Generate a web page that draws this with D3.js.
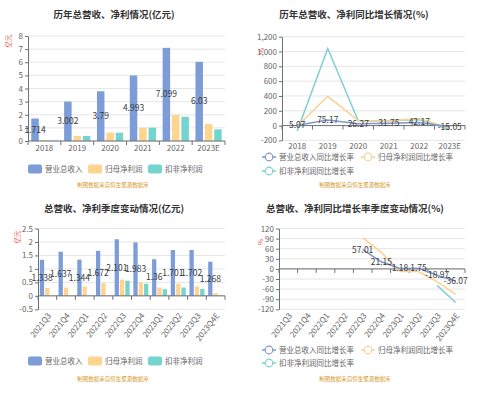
<!DOCTYPE html>
<html>
<head>
<meta charset="utf-8">
<script src="https://cdn.jsdelivr.net/npm/d3@7"></script>
<style>
body{margin:0;background:#fff;}
text{font-family:"Noto Sans CJK SC","Noto Sans",sans-serif;}
</style>
</head>
<body>
<svg id="chart"></svg>
<script>
// 年度数据
var years = ["2018", "2019", "2020", "2021", "2022", "2023E"];
var revenue = [1.714, 3.002, 3.79, 4.993, 7.099, 6.03];
var netProfit = [0.07, 0.38, 0.64, 1.02, 1.98, 1.3];
var deductedProfit = [0.03, 0.38, 0.63, 1.02, 1.85, 0.89];

var revenueYoy = [5.07, 75.17, 26.27, 31.75, 42.17, -15.05];
var netProfitYoy = [-8, 395, 68, 59, 96, -35];
var deductedYoy = [-72, 1040, 66, 62, 81, -52];

// 季度数据
var quarters = ["2021Q3", "2021Q4", "2022Q1", "2022Q2", "2022Q3", "2022Q4", "2023Q1", "2023Q2", "2023Q3", "2023Q4E"];
var qRevenue = [1.338, 1.637, 1.344, 1.672, 2.101, 1.983, 1.36, 1.701, 1.702, 1.268];
var qNetProfit = [0.29, 0.31, 0.35, 0.47, 0.6, 0.51, 0.31, 0.45, 0.35, 0.1];
var qDeducted = [null, null, null, null, 0.56, 0.45, 0.25, 0.31, 0.26, null];

var qRevenueYoy = [null, null, null, null, 57.01, 21.15, 1.18, 1.75, -18.97, -36.07];
var qNetProfitYoy = [null, null, null, null, 92, 49, -8, -8, -38, -76];
var qDeductedYoy = [null, null, null, null, null, null, null, null, -49, -100];

// 刻度
var ticks1 = [0, 1, 2, 3, 4, 5, 6, 7, 8];
var ticks2 = [-200, 0, 200, 400, 600, 800, 1000, 1200];
var ticks3 = [-0.5, 0, 0.5, 1, 1.5, 2, 2.5];
var ticks4 = [-120, -90, -60, -30, 0, 30, 60, 90, 120];

var barNames = ["营业总收入", "归母净利润", "扣非净利润"];
var lineNames = ["营业总收入同比增长率", "归母净利润同比增长率", "扣非净利润同比增长率"];
var barColors = ["#7c9dd8", "#fdd58e", "#76d4cf"];
var lineColors = ["#8197cb", "#fcd194", "#7fd0d2"];
var source = "制图数据来自恒生聚源数据库";

var svg = d3.select("#chart").attr("width", 500).attr("height", 397);

function fmtNum(d) {
	return (d < 0 ? "-" : "") + d3.format(",")(Math.abs(d));
}

// 去掉空值，保留下标
function points(vals) {
	return vals.map(function(v, i) { return {i: i, v: v}; })
		.filter(function(d) { return d.v != null; });
}

function title(cx, cy, t) {
	svg.append("text")
		.attr("x", cx).attr("y", cy).attr("dy", "0.35em")
		.attr("text-anchor", "middle")
		.attr("font-size", "9.5px").attr("font-weight", "bold")
		.attr("fill", "#333")
		.text(t);
}

function yName(x, y, t) {
	svg.append("text")
		.attr("transform", "translate(" + x + "," + y + ") rotate(-90)")
		.attr("text-anchor", "middle").attr("dy", "0.35em")
		.attr("font-size", "6.5px").attr("fill", "#e8504a")
		.text(t);
}

function sourceText(cx, cy) {
	svg.append("text")
		.attr("x", cx).attr("y", cy).attr("dy", "0.35em")
		.attr("text-anchor", "middle")
		.attr("font-size", "5.5px").attr("fill", "#d69a2c")
		.text(source);
}

function yAxis(y, x0, x1, ticks) {
	var g = svg.append("g");
	ticks.forEach(function(t) {
		g.append("line")
			.attr("x1", x0).attr("x2", x1)
			.attr("y1", y(t)).attr("y2", y(t))
			.attr("stroke", "#e6e6e6").attr("stroke-width", 1);
	});
	var ax = g.append("g")
		.attr("transform", "translate(" + x0 + ",0)")
		.call(d3.axisLeft(y).tickValues(ticks).tickSize(3).tickSizeOuter(0).tickPadding(2).tickFormat(fmtNum));
	ax.select(".domain").attr("stroke", "#6e7079");
	ax.selectAll(".tick line").attr("stroke", "#6e7079");
	ax.selectAll(".tick text").attr("fill", "#666").attr("font-size", "8px")
		.attr("font-family", "'Noto Sans CJK SC','Noto Sans',sans-serif");
}

function xAxis(x, yLine, yLabel, rotate) {
	var g = svg.append("g");
	var r = x.range();
	g.append("line")
		.attr("x1", r[0]).attr("x2", r[1])
		.attr("y1", yLine).attr("y2", yLine)
		.attr("stroke", "#6e7079");
	var bounds = x.domain().map(function(d) { return x(d); }).concat([r[1]]);
	g.selectAll(".xt").data(bounds).enter().append("line")
		.attr("x1", function(d) { return d; }).attr("x2", function(d) { return d; })
		.attr("y1", yLine).attr("y2", yLine + 4)
		.attr("stroke", "#6e7079");
	var lab = g.selectAll(".xl").data(x.domain()).enter().append("text")
		.attr("fill", "#666").attr("font-size", "8px")
		.text(function(d) { return d; });
	if (rotate) {
		lab.attr("text-anchor", "end")
			.attr("transform", function(d) {
				return "translate(" + (x(d) + x.bandwidth() / 2 + 2) + "," + yLabel + ") rotate(-52)";
			})
			.attr("dy", "0.35em");
	} else {
		lab.attr("text-anchor", "middle")
			.attr("x", function(d) { return x(d) + x.bandwidth() / 2; })
			.attr("y", yLabel).attr("dy", "0.35em");
	}
}

function barLegend(xs, cy) {
	xs.forEach(function(lx, i) {
		svg.append("rect")
			.attr("x", lx).attr("y", cy - 4.5).attr("width", 14).attr("height", 9).attr("rx", 2)
			.attr("fill", barColors[i]);
		svg.append("text")
			.attr("x", lx + 17).attr("y", cy).attr("dy", "0.35em")
			.attr("font-size", "7.5px").attr("fill", "#666")
			.text(barNames[i]);
	});
}

function lineLegend(items) {
	items.forEach(function(it, i) {
		svg.append("line")
			.attr("x1", it[0]).attr("x2", it[0] + 14)
			.attr("y1", it[1]).attr("y2", it[1])
			.attr("stroke", lineColors[i]).attr("stroke-width", 1.5);
		svg.append("circle")
			.attr("cx", it[0] + 7).attr("cy", it[1]).attr("r", 3.8)
			.attr("fill", "#fff").attr("stroke", lineColors[i]).attr("stroke-width", 1.2);
		svg.append("text")
			.attr("x", it[0] + 17).attr("y", it[1]).attr("dy", "0.35em")
			.attr("font-size", "7.5px").attr("fill", "#666")
			.text(lineNames[i]);
	});
}

function bars(x, y, series) {
	var inner = d3.scaleBand().domain([0, 1, 2])
		.range([x.bandwidth() * 0.1, x.bandwidth() * 0.9]).paddingInner(0.2);
	var bx = function(i, s) { return x(x.domain()[i]) + inner(s); };
	series.forEach(function(vals, s) {
		svg.append("g").selectAll("rect")
			.data(points(vals)).enter()
			.append("rect")
			.attr("x", function(d) { return bx(d.i, s); })
			.attr("width", inner.bandwidth())
			.attr("y", function(d) { return y(Math.max(d.v, 0)); })
			.attr("height", function(d) { return Math.abs(y(d.v) - y(0)); })
			.attr("fill", barColors[s]);
	});
	// 营收标签
	svg.append("g").selectAll("text")
		.data(points(series[0])).enter().append("text")
		.attr("x", function(d) { return bx(d.i, 0) + inner.bandwidth() / 2; })
		.attr("y", function(d) { return y(d.v / 2); })
		.attr("dy", "0.35em").attr("text-anchor", "middle")
		.attr("font-size", "8.5px").attr("fill", "#3c3c3c")
		.text(function(d) { return d.v; });
}

function lines(x, y, series) {
	var cx = function(i) { return x(x.domain()[i]) + x.bandwidth() / 2; };
	var line = d3.line()
		.defined(function(d) { return d != null; })
		.x(function(d, i) { return cx(i); })
		.y(function(d) { return y(d); });
	[2, 1, 0].forEach(function(s) {
		svg.append("path")
			.datum(series[s])
			.attr("d", line)
			.attr("fill", "none")
			.attr("stroke", lineColors[s]).attr("stroke-width", 1.5);
	});
	svg.append("g").selectAll("text")
		.data(points(series[0])).enter()
		.append("text")
		.attr("x", function(d) { return cx(d.i); })
		.attr("y", function(d) { return y(d.v); })
		.attr("dy", "0.35em").attr("text-anchor", "middle")
		.attr("font-size", "8.5px").attr("fill", "#3c3c3c")
		.text(function(d) { return d.v; });
}

// 面板1：历年总营收、净利情况
var x1 = d3.scaleBand().domain(years).range([28, 225]);
var y1 = d3.scaleLinear().domain([0, 8]).range([141, 36]);
title(114, 15, "历年总营收、净利情况(亿元)");
yName(9, 41, "亿元");
yAxis(y1, 28, 225, ticks1);
bars(x1, y1, [revenue, netProfit, deductedProfit]);
xAxis(x1, y1(0), 148, false);
barLegend([28, 88, 148], 169);
sourceText(113, 185);

// 面板2：历年同比增长
var x2 = d3.scaleBand().domain(years).range([282, 465]);
var y2 = d3.scaleLinear().domain([-200, 1200]).range([140.4, 36.7]);
title(354, 15, "历年总营收、净利同比增长情况(%)");
yName(262, 51, "%");
yAxis(y2, 282, 465, ticks2);
xAxis(x2, y2(0), 146.5, false);
lines(x2, y2, [revenueYoy, netProfitYoy, deductedYoy]);
lineLegend([[262, 157], [361, 157], [262, 171]]);
sourceText(355, 185.5);

// 面板3：季度变动
var x3 = d3.scaleBand().domain(quarters).range([38, 225]);
var y3 = d3.scaleLinear().domain([-0.5, 2.5]).range([309.3, 228.5]);
title(114, 209, "总营收、净利季度变动情况(亿元)");
yName(18, 237, "亿元");
yAxis(y3, 38, 225, ticks3);
bars(x3, y3, [qRevenue, qNetProfit, qDeducted]);
xAxis(x3, y3(0), 314, true);
barLegend([28, 88, 148], 361);
sourceText(113, 379);

// 面板4：季度同比增长
var x4 = d3.scaleBand().domain(quarters).range([279, 465]);
var y4 = d3.scaleLinear().domain([-120, 120]).range([309.3, 228.5]);
title(355, 209, "总营收、净利同比增长率季度变动情况(%)");
yName(261, 242, "%");
yAxis(y4, 279, 465, ticks4);
xAxis(x4, y4(0), 314, true);
lines(x4, y4, [qRevenueYoy, qNetProfitYoy, qDeductedYoy]);
lineLegend([[262, 350], [361, 350], [262, 363]]);
sourceText(355, 379);
</script>
</body>
</html>
